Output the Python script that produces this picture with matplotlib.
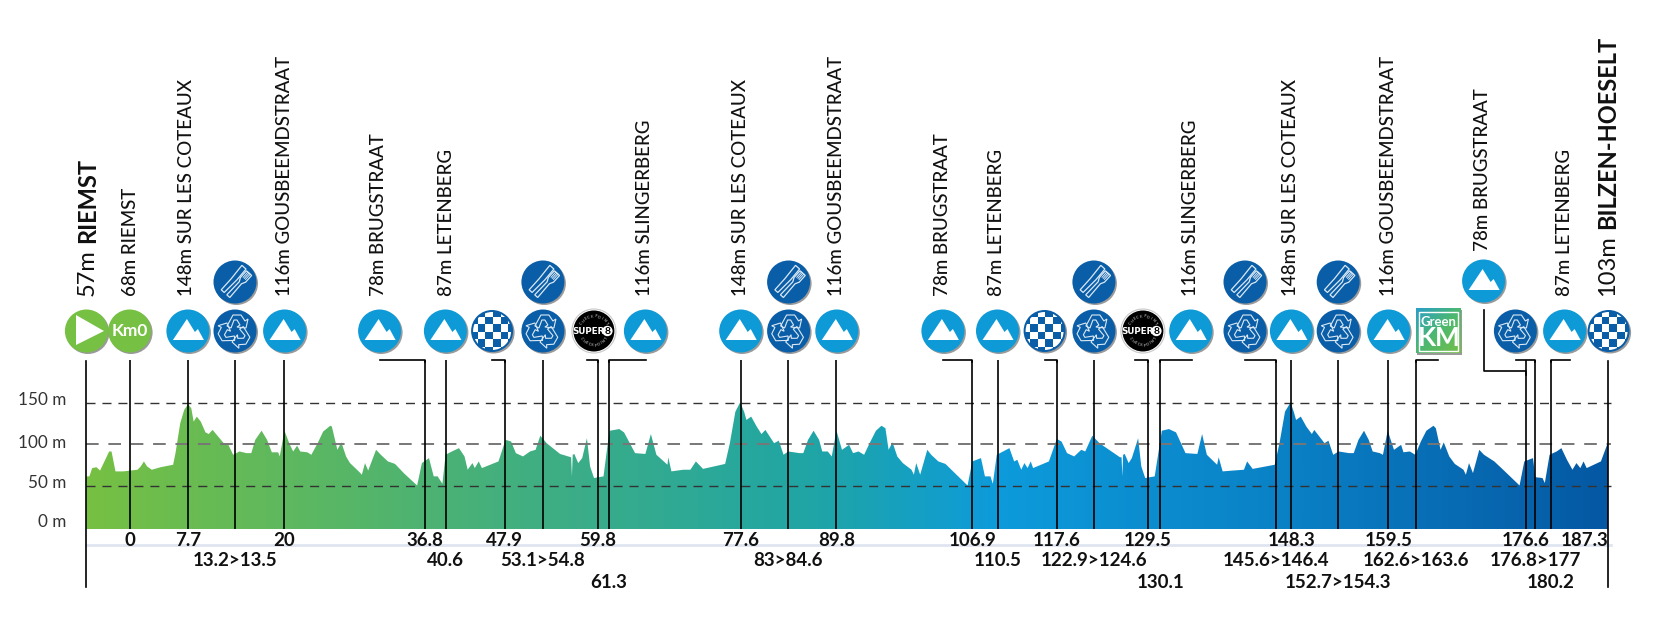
from matplotlib import pyplot as plt
from matplotlib.colors import LinearSegmentedColormap
from matplotlib.patches import Circle, Polygon, Rectangle
from matplotlib import transforms
import numpy as np

NARROW = ['Lato', 'Roboto', 'DejaVu Sans']
SANS = ['Lato', 'Noto Sans', 'DejaVu Sans']

# profile: km, metres
profile_km = [-5.4, -5.0, -4.65, -4.1, -3.65, -3.0, -2.5, -2.2, -1.7, -0.7, 0.2, 1.1, 1.5, 1.9, 2.3, 2.9, 4.0, 5.6, 5.9, 6.5, 7.0, 7.5, 7.9, 8.2, 8.6, 9.1, 9.7, 10.1, 10.6, 11.3, 12.1, 12.5, 13.2, 14.0, 14.9, 15.5, 16.0, 16.8, 17.5, 18.1, 18.9, 19.1, 19.7, 20.3, 20.8, 21.3, 21.7, 22.6, 23.1, 23.9, 24.6, 25.5, 25.7, 26.4, 26.9, 27.5, 28.0, 29.1, 29.5, 29.9, 30.3, 31.3, 31.9, 32.8, 33.7, 34.8, 36.5, 37.1, 38.0, 38.6, 39.1, 39.7, 40.1, 40.9, 41.8, 42.5, 42.9, 43.5, 43.8, 44.3, 44.7, 46.8, 47.7, 48.4, 49.0, 49.9, 50.8, 51.5, 52.1, 52.9, 54.6,
              56.0, 56.1, 56.2, 56.4, 56.9, 57.4, 58.0, 58.4, 58.9, 60.1, 60.7, 60.9, 62.1, 62.7, 64.1, 65.4, 66.1, 66.8, 68.2, 68.3, 68.7, 70.2, 71.1, 71.8, 72.7, 75.5, 76.1, 76.8, 77.4, 77.9, 78.2, 78.8, 79.5, 80.1, 80.6, 81.7, 82.3, 82.9, 83.5, 84.9, 85.4, 86.0, 86.7, 87.4, 87.8, 88.5, 89.0, 89.6, 90.3, 91.2, 91.7, 92.4, 93.1, 93.9, 94.6, 95.3, 95.8, 96.2, 96.7, 97.3, 98.0, 99.1, 99.4, 99.7, 100.2, 101.1, 101.6, 102.5, 103.4, 104.8, 106.2, 106.8, 107.9, 108.4, 109.1, 109.4, 109.9, 110.7, 111.5, 112.1, 112.5, 113.0, 113.4, 113.8, 114.2, 114.5, 116.5, 117.5, 118.1, 118.8, 119.7, 120.6, 121.1, 122.0, 122.9, 125.5,
              125.7, 125.8, 125.9, 126.1, 126.6, 127.0, 127.8, 128.2, 128.7, 129.9, 130.8, 131.7, 132.6, 133.8, 135.3, 135.9, 136.5, 137.8, 138.0, 138.5, 139.8, 141.2, 141.6, 142.3, 145.1, 145.7, 146.4, 147.1, 147.5, 147.8, 148.4, 149.1, 149.8, 150.1, 151.4, 151.9, 152.5, 153.2, 154.5, 155.1, 155.7, 156.4, 157.0, 157.5, 158.4, 158.8, 159.4, 160.2, 161.1, 161.4, 162.2, 162.9, 163.6, 164.3, 165.2, 165.5, 166.1, 166.5, 167.2, 167.9, 169.0, 169.3, 169.7, 170.2, 171.0, 171.6, 172.9, 173.8, 174.9, 176.1, 176.7, 177.8, 178.1, 179.0, 179.3, 179.9, 180.8, 181.4, 182.1, 182.8, 183.3, 183.8, 184.2, 184.6, 186.4, 187.3]
profile_m = [61, 61, 71, 72, 68, 81, 91, 91, 67, 67, 68, 69, 73, 79, 73, 69, 72, 75, 89, 125, 141, 148, 143, 127, 133, 127, 114, 112, 117, 109, 100, 101, 87, 91, 89, 89, 105, 116, 105, 90, 90, 85, 116, 101, 91, 98, 91, 90, 87, 101, 115, 122, 121, 93, 102, 85, 77, 67, 63, 77, 68, 93, 87, 79, 76, 65, 50, 77, 83, 61, 61, 52, 87, 91, 95, 85, 69, 77, 71, 79, 71, 79, 105, 103, 89, 85, 91, 93, 110, 101, 88,
             84, 61, 87, 88, 77, 83, 107, 73, 59, 61, 105, 116, 118, 114, 89, 88, 112, 87, 75, 84, 67, 69, 69, 79, 70, 76, 101, 139, 150, 139, 129, 133, 121, 112, 117, 101, 104, 87, 91, 89, 89, 105, 116, 105, 91, 91, 85, 116, 93, 99, 89, 91, 87, 103, 116, 122, 119, 93, 102, 85, 77, 69, 63, 77, 63, 93, 87, 79, 76, 63, 50, 79, 83, 61, 61, 52, 87, 91, 95, 79, 81, 69, 77, 71, 79, 71, 79, 106, 103, 89, 85, 93, 91, 110, 101, 84,
             84, 61, 87, 88, 77, 83, 107, 73, 59, 61, 116, 118, 114, 89, 88, 112, 87, 75, 84, 67, 68, 69, 79, 70, 75, 101, 139, 150, 139, 129, 133, 121, 112, 117, 101, 104, 87, 91, 89, 89, 105, 116, 105, 91, 89, 87, 116, 93, 99, 90, 91, 87, 103, 116, 122, 119, 93, 102, 85, 76, 69, 63, 77, 65, 93, 87, 79, 71, 61, 50, 79, 83, 60, 59, 53, 87, 91, 95, 81, 69, 77, 71, 79, 71, 79, 102]

ytick_m = [150, 100, 50, 0]
ytick_labels = ['150 m', '100 m', '50 m', '0 m']

# km where each leader line comes down, with its label and label row
line_km = [0.1, 7.5, 13.4, 19.7, 37.5, 40.1, 47.6, 52.4, 59.4, 60.8, 77.5, 83.5, 89.6, 106.8, 110.0, 117.5, 122.2, 129.0, 130.6, 145.2, 147.2, 153.1, 159.5, 163.0, 176.9, 178.1, 180.1]
line_labels = ['0', '7.7', '13.2>13.5', '20', '36.8', '40.6', '47.9', '53.1>54.8', '59.8', '61.3', '77.6', '83>84.6', '89.8', '106.9', '110.5', '117.6', '122.9>124.6', '129.5', '130.1', '145.6>146.4', '148.3', '152.7>154.3', '159.5', '162.6>163.6', '176.6', '176.8>177', '180.2']
line_rows = [0, 0, 1, 0, 0, 1, 0, 1, 0, 2, 0, 1, 0, 0, 1, 0, 1, 0, 2, 1, 0, 2, 0, 1, 0, 1, 2]

place_names = ['68m RIEMST', '148m SUR LES COTEAUX', '116m GOUSBEEMDSTRAAT', '78m BRUGSTRAAT', '87m LETENBERG', '116m SLINGERBERG',
               '148m SUR LES COTEAUX', '116m GOUSBEEMDSTRAAT', '78m BRUGSTRAAT', '87m LETENBERG', '116m SLINGERBERG',
               '148m SUR LES COTEAUX', '116m GOUSBEEMDSTRAAT', '78m BRUGSTRAAT', '87m LETENBERG']
place_x = [131, 186, 284, 378, 446, 645, 740, 837, 942, 997, 1190, 1291, 1388, 1483, 1565]
place_bottom = [296] * 13 + [251, 296]

grad_stops = [0.0, 0.3, 0.48, 0.6, 0.8, 1.0]
grad_colors = ['#76c043', '#3fae83', '#1fa5a6', '#0d9bdb', '#0a7fc4', '#0558a3']

X0, PX_KM = 128.9, 7.897
Y0, PX_M = 527.0, 0.83
W, H = 1670, 621
LINE_TOP = 360
ROW_Y = [541, 561, 582]


def km_x(km):
    return X0 + PX_KM * km


fig = plt.figure(figsize=(W / 100, H / 100), dpi=100)
ax = fig.add_axes([0, 0, 1, 1])
ax.axis('off')

# gradient area
base = -2.4
area = ax.fill_between(profile_km, base, profile_m, color='none', lw=0)
cmap = LinearSegmentedColormap.from_list('profile', list(zip(grad_stops, grad_colors)))
img = ax.imshow(np.linspace(0, 1, 512)[None, :], extent=[profile_km[0], profile_km[-1], base, 160],
                aspect='auto', cmap=cmap, zorder=1)
img.set_clip_path(area.get_paths()[0], transform=ax.transData)
ax.set_xlim(-X0 / PX_KM, (W - X0) / PX_KM)
ax.set_ylim((Y0 - H) / PX_M, Y0 / PX_M)

for m, c, lw in zip(ytick_m[:3], ['#333333', '#777777', '#333333'], [1.0, 1.4, 1.0]):
    ax.plot([profile_km[0], profile_km[-1] + 0.4], [m, m], color=c, lw=lw, dashes=(6.5, 5), zorder=3)
for m, lab, off in zip(ytick_m, ytick_labels, [-3, -1, -2, -5]):
    ax.text(-5.4 - 20 / PX_KM, m - off / PX_M, lab, ha='right', va='center', fontsize=12.3,
            family=NARROW, color='#333333')

ax.plot([profile_km[0], profile_km[-1] + 0.4], [-22, -22], color='#dfe5f1', lw=2, zorder=1)
ax.plot([profile_km[0]] * 2, [-72, 200], color='k', lw=1.2, zorder=4)
ax.plot([profile_km[-1]] * 2, [-72, 200], color='k', lw=1.2, zorder=4)

for km, lab, row in zip(line_km, line_labels, line_rows):
    ax.plot([km, km], [base, (Y0 - LINE_TOP) / PX_M], color='k', lw=1.2, zorder=4, solid_capstyle='butt')
    ax.text(km, (Y0 - ROW_Y[row]) / PX_M, lab, ha='center', va='center', fontsize=13.5,
            family=SANS, weight='bold', color='#111111')
ax.text(184.3, (Y0 - ROW_Y[0]) / PX_M, '187.3', ha='center', va='center', fontsize=13.5, family=SANS, weight='bold',
        color='#111111')

# icons and text in pixel coordinates
pix = fig.add_axes([0, 0, 1, 1], facecolor='none')
pix.set_xlim(0, W)
pix.set_ylim(H, 0)
pix.axis('off')


def disc(x, y, col, r=21.5):
    pix.add_patch(Circle((x + 1.5, y + 1.5), r, fc='#9a9a9a', ec='none', zorder=5))
    pix.add_patch(Circle((x, y), r, fc=col, ec='none', zorder=6))


def mountain(x, y):
    disc(x, y, '#0e9ad7')
    pts = [(-15, 9), (-1, -12), (7, 1), (10, -2), (16, 9)]
    pix.add_patch(Polygon([(x + a, y + b) for a, b in pts], fc='white', ec='none', zorder=7))


def checker(x, y):
    disc(x, y, '#0a5ea8', 21)
    clip = Circle((x, y), 19, transform=pix.transData)
    s = 7.6
    for i in range(-3, 3):
        for j in range(-3, 3):
            if (i + j) % 2 == 0:
                r = Rectangle((x + i * s + 0.8, y + j * s + 0.8), s, s, fc='white', ec='none', zorder=7)
                pix.add_patch(r)
                r.set_clip_path(clip)


def recycle(x, y):
    disc(x, y, '#0a5ea8')
    arrow = [(-8, -5), (-2, -16), (6, -16), (10, -10), (13, -12), (11, -3), (2, -4), (5, -6), (2, -11), (-1, -11), (-4, -3)]
    for ang in [0, 120, 240]:
        t = transforms.Affine2D().rotate_deg(ang).translate(x, y) + pix.transData
        pix.add_patch(Polygon(arrow, fc='none', ec='#dbe9f5', lw=0.8, transform=t, zorder=7))


def cutlery(x, y):
    disc(x, y, '#0a5ea8')
    knife = [(-2.5, -17), (3, -17), (3.5, -3), (2.5, 15), (-1.5, 15), (-1.5, 0)]
    fork = [(-3.5, -16), (3.5, -16), (3.5, -7), (1.5, -3), (2, 15), (-2, 15), (-1.5, -3), (-3.5, -7)]
    for shape, dx in [(knife, -3.5), (fork, 4.5)]:
        t = transforms.Affine2D().translate(dx, 0).rotate_deg(42).translate(x, y) + pix.transData
        pix.add_patch(Polygon(shape, fc='none', ec='#dbe9f5', lw=0.9, transform=t, zorder=7))
    for k in [-1, 0, 1]:
        t = transforms.Affine2D().translate(4.5 + k * 1.6, 0).rotate_deg(42).translate(x, y) + pix.transData
        pix.plot([0, 0], [-16, -9], color='#dbe9f5', lw=0.7, transform=t, zorder=7)


def super8(x, y):
    pix.add_patch(Circle((x, y), 22, fc='white', ec='#c8c8c8', lw=0.8, zorder=5))
    pix.add_patch(Circle((x, y), 20.5, fc='black', ec='none', zorder=6))
    pix.text(x - 5, y, 'SUPER', color='white', fontsize=6.3, weight='bold', ha='center', va='center',
             family='DejaVu Sans', zorder=7)
    pix.add_patch(Circle((x + 13.5, y), 5.2, fc='white', ec='none', zorder=7))
    pix.text(x + 13.5, y, '8', color='black', fontsize=7.5, weight='bold', ha='center', va='center',
             family=SANS, zorder=8)
    # CHECKPOINT bent round the top and bottom rim
    word = 'CHECKPOINT'
    for i, ch in enumerate(word):
        ang = (i - 4.5) * 13
        for sgn, flip in [(-1, 0), (1, 1)]:
            a = np.radians(ang)
            px = x + 14.5 * np.sin(a) if not flip else x - 14.5 * np.sin(-a)
            py = y + sgn * 14.5 * np.cos(a)
            pix.text(px, py, ch, color='#d8d8d8', fontsize=2.8, ha='center', va='center', family=SANS,
                     rotation=-ang if not flip else ang, zorder=7)


def green_km(x, y):
    pix.add_patch(Rectangle((x - 21.5, y - 21.5), 45, 45, fc='#9a9a9a', ec='none', zorder=5))
    grad = LinearSegmentedColormap.from_list('g', ['#2a9fc8', '#4cb870', '#74bf46'])
    pix.imshow(np.add.outer(np.linspace(0, 1, 40), np.linspace(0, 1, 40)) / 2, cmap=grad, vmin=0, vmax=1,
               extent=[x - 22.5, x + 22.5, y + 22.5, y - 22.5], zorder=6, aspect='auto')
    pix.add_patch(Rectangle((x - 19.5, y - 19.5), 39, 39, fc='none', ec='white', lw=1, zorder=7))
    pix.text(x, y - 9.5, 'Green', color='white', fontsize=9.5, weight='bold', ha='center', va='center',
             family=SANS, zorder=8)
    pix.text(x, y + 6.5, 'KM', color='white', fontsize=19, weight='bold', ha='center', va='center',
             family=SANS, zorder=8)


ICON_Y = 331
disc(86.4, ICON_Y, '#76c043')
pix.add_patch(Polygon([(76, ICON_Y - 16), (76, ICON_Y + 14), (104, ICON_Y)], fc='white', ec='none', zorder=7))
disc(129.6, ICON_Y, '#76c043')
pix.text(129.6, ICON_Y, 'Km0', color='white', fontsize=12.5, weight='bold', ha='center', va='center',
         family=NARROW, zorder=7)

for x in [187.9, 284.6, 379.6, 445.4, 645.4, 740.7, 836.8, 942.9, 997.5, 1190.7, 1291.4, 1388.6, 1564.6]:
    mountain(x, ICON_Y)
mountain(1483.6, 281)
for x in [235, 542.9, 788.6, 1093.9, 1245, 1338.2, 1515.4]:
    recycle(x, ICON_Y)
for x in [235, 542.9, 788.6, 1093.9, 1245, 1338.2]:
    cutlery(x, 282)
for x in [492.1, 1044.6, 1608.6]:
    checker(x, ICON_Y)
for x in [593.9, 1142.9]:
    super8(x, ICON_Y)
green_km(1438.9, ICON_Y)
pix.set_xlim(0, W)
pix.set_ylim(H, 0)

# elbows from icons to the lines
elbows = [(379.6, 37.5), (492.1, 47.6), (586.8, 59.4), (645.7, 60.8), (943, 106.8), (1044.6, 117.5),
          (1135, 129.0), (1192, 130.6), (1245, 145.2), (1438, 163.0), (1516, 178.1), (1570, 180.1)]
for x, km in elbows:
    pix.plot([x, km_x(km), km_x(km)], [LINE_TOP, LINE_TOP, LINE_TOP + 2], color='k', lw=1.2, zorder=4)
pix.plot([1483.6, 1483.6, km_x(176.9), km_x(176.9)], [310, 371, 371, 375], color='k', lw=1.2, zorder=4)

for x, lab, b in zip(place_x, place_names, place_bottom):
    pix.text(x, b, lab, rotation=90, ha='center', va='bottom', fontsize=13.5, family=NARROW, weight='medium',
             color='#111111')

# start and finish get a bigger, bold name
fig.canvas.draw()
rend = fig.canvas.get_renderer()
for x, first, second in [(87.5, '57m', 'RIEMST'), (1608, '103m', 'BILZEN-HOESELT')]:
    t = pix.text(x, 296, first, rotation=90, ha='center', va='bottom', fontsize=17, family=NARROW, color='#111111')
    h = t.get_window_extent(rend).height
    pix.text(x, 296 - h - 6, second, rotation=90, ha='center', va='bottom', fontsize=17, family=NARROW,
             weight='bold', color='#111111')

fig.savefig('out.png', dpi=100, facecolor='white')
